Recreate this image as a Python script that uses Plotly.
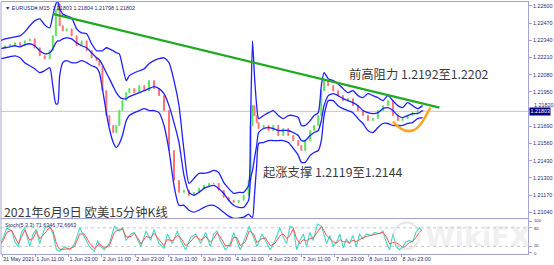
import plotly.graph_objects as go

# ---------------- data ----------------
# x positions: trading hours since 31 May 2021 23:00 (weekend removed)
hours = [-0.7,1.1,2.9,4.7,6.5,8.2,10.0,11.8,13.6,15.4,17.2,18.3,19.4,20.1,20.8,21.9,23.3,25.1,26.9,28.7,
         30.5,32.3,34.1,35.1,36.2,37.6,38.7,40.1,41.2,42.3,43.4,44.8,45.9,47.7,49.5,51.3,53.0,54.8,56.6,58.4,
         60.2,62.0,63.8,65.6,67.4,69.2,71.0,72.8,74.6,76.3,78.1,79.9,81.7,83.5,85.3,87.1,88.9,89.6,90.3,91.0,
         91.8,92.5,94.3,96.1,97.8,99.6,101.4,103.2,105.0,106.8,107.9,109.3,111.1,112.5,114.0,115.1,116.1,117.6,119.4,121.1,
         122.9,124.7,126.5,128.3,130.1,131.9,133.7,135.5,137.3,139.1,140.9,142.7,144.4,146.2,148.0,149.8,151.6]
upper = [1.22336,1.22351,1.22359,1.22367,1.22374,1.22404,1.22450,1.22487,1.22502,1.22457,
         1.22434,1.22525,1.22615,1.22638,1.22578,1.22540,1.22525,1.22510,1.22427,1.22397,
         1.22389,1.22314,1.22261,1.22261,1.22261,1.22284,1.22276,1.22261,1.22246,1.22238,
         1.22148,1.22035,1.22073,1.22095,1.22110,1.22125,1.22163,1.22186,1.22201,1.22208,
         1.22171,1.22035,1.21846,1.21507,1.21258,1.21296,1.21334,1.21334,1.21341,1.21356,
         1.21341,1.21266,1.21220,1.21183,1.21190,1.21190,1.21243,1.21733,1.22336,1.22073,
         1.21846,1.21748,1.21771,1.21793,1.21809,1.21771,1.21748,1.21771,1.21771,1.21756,
         1.21696,1.21696,1.21733,1.21771,1.21793,1.21997,1.22095,1.22050,1.22035,1.22012,
         1.21975,1.21944,1.21959,1.21922,1.21907,1.21937,1.21922,1.21907,1.21884,1.21922,
         1.21884,1.21846,1.21831,1.21869,1.21846,1.21823,1.21846]
middle = [1.22276,1.22284,1.22291,1.22299,1.22291,1.22306,1.22314,1.22299,1.22261,1.22238,
          1.22246,1.22276,1.22321,1.22336,1.22336,1.22351,1.22359,1.22351,1.22321,1.22299,
          1.22284,1.22246,1.22208,1.22193,1.22155,1.22095,1.22050,1.21990,1.21944,1.21914,
          1.21899,1.21899,1.21914,1.21929,1.21944,1.21959,1.21975,1.21990,1.21975,1.21937,
          1.21846,1.21718,1.21567,1.21319,1.21190,1.21168,1.21190,1.21220,1.21236,1.21243,
          1.21220,1.21183,1.21130,1.21092,1.21077,1.21077,1.21130,1.21296,1.21356,1.21447,
          1.21545,1.21643,1.21673,1.21680,1.21673,1.21658,1.21658,1.21658,1.21643,1.21620,
          1.21582,1.21582,1.21620,1.21643,1.21658,1.21733,1.21846,1.21922,1.21937,1.21922,
          1.21899,1.21884,1.21869,1.21846,1.21809,1.21793,1.21786,1.21793,1.21823,1.21831,
          1.21809,1.21771,1.21756,1.21771,1.21786,1.21786,1.21809]
lower = [1.22201,1.22208,1.22216,1.22223,1.22208,1.22171,1.22148,1.22125,1.22095,1.22110,
         1.22133,1.21997,1.21861,1.21861,1.22073,1.22171,1.22186,1.22171,1.22171,1.22186,
         1.22171,1.22148,1.22133,1.22095,1.21975,1.21793,1.21673,1.21567,1.21530,1.21560,
         1.21620,1.21733,1.21771,1.21793,1.21809,1.21823,1.21809,1.21809,1.21793,1.21696,
         1.21507,1.21243,1.21092,1.21092,1.21055,1.21040,1.21055,1.21077,1.21092,1.21092,
         1.21070,1.21040,1.21010,1.20994,1.20994,1.21002,1.21025,1.21010,1.21002,1.21168,
         1.21394,1.21560,1.21567,1.21582,1.21582,1.21582,1.21582,1.21567,1.21522,1.21470,
         1.21417,1.21417,1.21470,1.21492,1.21507,1.21582,1.21771,1.21884,1.21884,1.21846,
         1.21823,1.21809,1.21793,1.21748,1.21711,1.21658,1.21643,1.21680,1.21711,1.21711,
         1.21696,1.21696,1.21696,1.21711,1.21718,1.21748,1.21756]
close = [1.22284,1.22299,1.22306,1.22321,1.22299,1.22336,1.22351,1.22284,1.22223,1.22201,
         1.22261,1.22374,1.22563,1.22615,1.22450,1.22412,1.22427,1.22374,1.22299,1.22336,
         1.22261,1.22208,1.22186,1.22148,1.21959,1.21771,1.21696,1.21643,1.21696,1.21809,
         1.21884,1.21944,1.21975,1.21944,1.21997,1.21959,1.22035,1.21975,1.21922,1.21809,
         1.21507,1.21281,1.21190,1.21206,1.21168,1.21190,1.21220,1.21243,1.21258,1.21258,
         1.21206,1.21153,1.21130,1.21115,1.21130,1.21168,1.21281,1.21696,1.21846,1.21771,
         1.21718,1.21673,1.21696,1.21658,1.21696,1.21620,1.21673,1.21620,1.21582,1.21545,
         1.21507,1.21582,1.21658,1.21696,1.21771,1.21959,1.22035,1.21997,1.21959,1.21922,
         1.21884,1.21899,1.21846,1.21809,1.21771,1.21733,1.21748,1.21809,1.21846,1.21884,
         1.21771,1.21733,1.21748,1.21771,1.21793,1.21809,1.21802]

stoch_hours = [-0.7,0.5,1.7,3.5,4.7,5.9,7.0,8.2,10.0,11.2,12.4,13.6,15.4,17.2,18.4,19.6,20.8,22.6,24.4,26.2,
               28.0,29.7,31.5,33.3,34.5,35.1,36.9,38.7,40.5,42.3,43.5,44.7,46.5,47.7,48.9,50.1,51.9,53.6,54.8,56.6,
               58.4,59.6,61.4,63.2,64.4,66.2,68.0,69.8,71.6,73.4,75.1,76.3,77.5,78.7,80.5,82.3,83.5,84.7,85.9,87.7,
               89.1,90.7,91.9,93.7,94.9,96.7,98.4,
               100.2,101.4,102.6,103.8,105.0,106.2,107.4,108.6,109.8,111.0,112.2,113.7,115.2,117.0,118.2,119.4,120.6,121.8,123.0,124.1,
               125.3,126.5,127.7,128.9,130.1,131.3,133.1,134.3,136.1,137.3,138.5,139.7,140.9,142.1,143.3,144.5,145.6,146.8,148.0,149.2,
               150.4,151.3]
stoch_main = [29,49,80,70,34,19,65,80,19,60,75,29,80,85,60,9,4,19,9,29,
              80,49,19,4,39,24,9,29,85,70,80,39,60,65,39,19,70,39,75,29,
              14,60,29,70,39,9,49,60,29,65,19,60,70,39,9,29,65,39,9,49,
              85,49,19,60,39,9,39,
              80,49,29,85,80,9,39,60,19,65,39,92,85,29,55,19,34,60,14,44,
              29,55,19,60,44,60,55,65,60,70,34,9,60,19,9,19,34,39,34,65,
              80,71.6]
stoch_signal = [25,40,65,72,50,28,50,72,40,45,68,45,62,82,70,30,10,12,12,20,
                60,60,32,12,25,28,15,22,65,75,76,50,52,62,48,28,52,48,62,42,
                22,42,38,55,48,22,36,54,40,52,34,45,64,50,22,22,50,48,22,35,
                70,60,32,45,48,22,30,
                55,60,45,55,78,45,28,42,38,45,48,65,85,55,45,35,30,42,35,35,
                32,40,35,42,48,52,56,60,62,65,52,28,32,32,25,15,22,32,36,48,
                65,72.7]

time_tick_hours = [0, 12, 24, 36, 48, 60, 72, 84, 96, 108, 120, 132, 144]
time_tick_labels = ["31 May 2021", "1 Jun 11:00", "1 Jun 23:00", "2 Jun 11:00", "2 Jun 23:00",
                    "3 Jun 11:00", "3 Jun 23:00", "4 Jun 11:00", "4 Jun 23:00", "7 Jun 11:00",
                    "7 Jun 23:00", "8 Jun 11:00", "8 Jun 23:00"]
price_ticks = [1.22600, 1.22470, 1.22340, 1.22210, 1.22080, 1.21950, 1.21820,
               1.21690, 1.21560, 1.21430, 1.21300, 1.21170, 1.21040]
stoch_levels = [0, 20, 80, 100]
current_price = 1.21803

trend_hours = [18.3, 157.7]
trend_prices = [1.22540, 1.21831]
sketch_hours = [140.9, 142.7, 145.2, 148.0, 149.8, 151.6, 153.4, 154.5]
sketch_prices = [1.21726, 1.21688, 1.21658, 1.21658, 1.21680, 1.21726, 1.21793, 1.21831]

assert len(hours) == len(upper) == len(middle) == len(lower) == len(close)
assert len(stoch_hours) == len(stoch_main) == len(stoch_signal)

opens = [close[0]] + close[:-1]
highs = [max(o, c) for o, c in zip(opens, close)]
lows = [min(o, c) for o, c in zip(opens, close)]

BAND = "#1f1fff"
SMALL = dict(family="Liberation Sans, Arial", size=5.4, color="#2a2a70")
STOCHF = dict(family="Liberation Sans, Arial", size=4.2, color="#2a2a70")
CJK = dict(family="Noto Sans CJK SC", size=12.3, color="#3a3a3a")

fig = go.Figure()
fig.add_trace(go.Candlestick(x=hours, open=opens, high=highs, low=lows, close=close,
                             increasing=dict(line=dict(color="#5be35b", width=1), fillcolor="#5be35b"),
                             decreasing=dict(line=dict(color="#ff7272", width=1), fillcolor="#ff7272"),
                             whiskerwidth=0, showlegend=False, hoverinfo="skip"))
for ser in (upper, middle, lower):
    fig.add_trace(go.Scatter(x=hours, y=ser, mode="lines", line=dict(color=BAND, width=1.3, shape="spline", smoothing=0.6),
                             showlegend=False, hoverinfo="skip"))
fig.add_trace(go.Scatter(x=trend_hours, y=trend_prices, mode="lines", line=dict(color="#1faa1f", width=2.2),
                         showlegend=False, hoverinfo="skip"))
fig.add_trace(go.Scatter(x=sketch_hours, y=sketch_prices, mode="lines",
                         line=dict(color="#ffa31a", width=2.4, shape="spline"), showlegend=False, hoverinfo="skip"))

fig.add_trace(go.Scatter(x=stoch_hours, y=stoch_main, mode="lines", line=dict(color="#40d8c8", width=1.1),
                         xaxis="x2", yaxis="y2", showlegend=False, hoverinfo="skip"))
fig.add_trace(go.Scatter(x=stoch_hours, y=stoch_signal, mode="lines", line=dict(color="#ff5050", width=1.0),
                         xaxis="x2", yaxis="y2", showlegend=False, hoverinfo="skip"))

xr = [-0.36, 189.6]
AX = "#a4a4d4"
# the tick hidden behind the current-price box gets its label nudged up (drawn below)
hidden_tick = 1.21820
fig.update_layout(
    width=554, height=265, margin=dict(l=1, r=23, t=1, b=11),
    paper_bgcolor="white", plot_bgcolor="white", showlegend=False,
    xaxis=dict(domain=[0, 1], range=xr, anchor="y", showticklabels=False, showgrid=False, zeroline=False,
               rangeslider=dict(visible=False), showline=True, linecolor=AX, linewidth=1, mirror=True, ticks=""),
    yaxis=dict(domain=[0.1423, 1], range=[1.20995, 1.22630], side="right", tickvals=price_ticks,
               ticktext=["" if v == hidden_tick else f"{v:.5f}" for v in price_ticks], tickfont=SMALL,
               ticks="outside", ticklen=3,
               tickcolor=AX, showline=True, linecolor=AX, showgrid=False, zeroline=False),
    xaxis2=dict(domain=[0, 1], range=xr, anchor="y2", tickvals=time_tick_hours, ticktext=time_tick_labels,
                tickangle=0, ticklabelposition="outside right", tickfont=SMALL, ticks="outside", ticklen=2,
                tickcolor=AX, showline=True, linecolor=AX, mirror=True, showgrid=False, zeroline=False),
    yaxis2=dict(domain=[0, 0.1383], range=[-4.8, 108.1], side="right", anchor="x2", tickvals=stoch_levels,
                showticklabels=False, ticks="outside", ticklen=3,
                tickcolor=AX, showline=True, linecolor=AX, showgrid=False, zeroline=False),
)

fig.add_annotation(xref="paper", yref="y", x=1, xshift=4, y=hidden_tick, yshift=4.5, xanchor="left",
                   yanchor="middle", text=f"{hidden_tick:.5f}", showarrow=False, font=SMALL)

# stochastic level labels (kept apart by a pixel so they don't collide)
for lv, shift in zip(stoch_levels, (-1.2, 1.0, -0.8, 1.2)):
    fig.add_annotation(xref="paper", yref="y2", x=1, xshift=4, y=lv, yshift=shift, xanchor="left",
                       yanchor="middle", text=str(lv), showarrow=False, font=STOCHF)

# current price line, stoch levels, left border
fig.add_shape(type="line", xref="paper", x0=0, x1=1, yref="y", y0=current_price, y1=current_price,
              line=dict(color="#c4c4c4", width=1), layer="below")
for lv in (20, 80):
    fig.add_shape(type="line", xref="paper", x0=0, x1=1, yref="y2", y0=lv, y1=lv,
                  line=dict(color="#b8b8b8", width=0.8, dash="dot"), layer="below")
fig.add_shape(type="line", xref="paper", yref="paper", x0=0, x1=0, y0=0, y1=1, line=dict(color=AX, width=1))

# watermark
fig.add_shape(type="circle", xref="paper", yref="paper", x0=0.745, x1=0.794, y0=0.02, y1=0.125,
              line=dict(color="rgba(210,210,210,0.5)", width=2))
fig.add_annotation(xref="paper", yref="paper", x=0.80, y=0.07, xanchor="left", yanchor="middle",
                   text="<b>WikiFX</b>", showarrow=False,
                   font=dict(family="DejaVu Sans", size=27, color="rgba(215,215,215,0.4)"))

# price label box
fig.add_annotation(xref="paper", yref="y", x=1, xshift=1, y=current_price, yshift=-0.5, xanchor="left",
                   yanchor="middle", text="1.21803", showarrow=False, bgcolor="#000080", borderpad=0.4,
                   font=dict(family="Liberation Sans, Arial", size=5.4, color="white"))

# texts
fig.add_annotation(xref="paper", yref="paper", x=0.003, y=0.998, xanchor="left", yanchor="top",
                   text="▼ EURUSD#,M15  1.21803 1.21804 1.21798 1.21802", showarrow=False, font=SMALL)
fig.add_annotation(xref="paper", yref="paper", x=0.003, y=0.134, xanchor="left", yanchor="top",
                   text="Stoch(5,3,3) 71.6346 72.6663", showarrow=False, font=SMALL)
fig.add_annotation(xref="x", yref="y", x=124.4, y=1.22088, xanchor="left", yanchor="middle",
                   text="前高阻力 1.2192至1.2202", showarrow=False, font=CJK)
fig.add_annotation(xref="x", yref="y", x=93.2, y=1.21341, xanchor="left", yanchor="middle",
                   text="起涨支撑 1.2119至1.2144", showarrow=False, font=CJK)
fig.add_annotation(xref="paper", yref="paper", x=0.002, y=0.168, xanchor="left", yanchor="middle",
                   text="2021年6月9日 欧美15分钟K线", showarrow=False, font=CJK)

fig.write_html("out.html")
